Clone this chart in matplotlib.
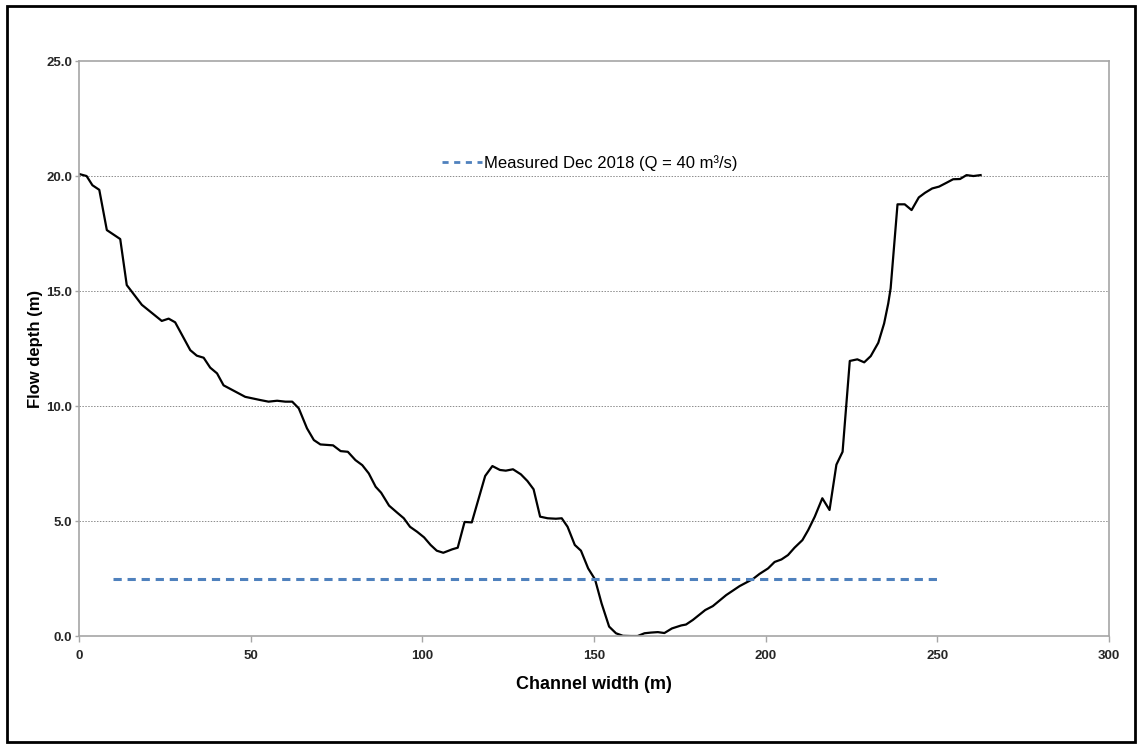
import matplotlib.pyplot as plt
from matplotlib.lines import Line2D
from matplotlib.patches import Rectangle

# cross-section profile
WIDTH = [0, 2.2, 3.9, 5.9, 8.1, 12.0, 13.9, 18.3, 24.1, 26.1, 28.0, 32.4, 34.3,
         36.3, 38.2, 40.2, 42.1, 48.4, 52.8, 55.2, 57.7, 60.1, 62.1, 64.0, 66.4,
         68.4, 70.3, 74.0, 76.2, 78.3, 80.5, 82.5, 84.4, 86.4, 88.0, 90.3, 92.7,
         94.6, 96.4, 98.5, 100.5, 102.4, 104.2, 106.1, 108.7, 110.3, 112.3, 114.4,
         116.0, 118.3, 120.4, 122.6, 124.3, 126.4, 128.7, 130.6, 132.4, 134.3,
         136.5, 138.9, 140.6, 142.3, 144.4, 146.2, 148.3, 150.3, 152.2, 154.4,
         156.4, 158.4, 160.8, 162.7, 164.7, 166.6, 168.6, 170.5, 172.7, 175.4,
         176.8, 178.8, 182.4, 184.6, 188.5, 192.4, 196.3, 198.2, 200.7, 202.6,
         204.6, 206.5, 208.4, 210.7, 212.4, 214.3, 216.5, 218.6, 220.6, 222.4,
         224.5, 226.7, 228.7, 230.6, 232.8, 234.5, 235.7, 236.4, 238.4, 240.5,
         242.5, 244.6, 246.4, 248.5, 250.5, 252.7, 254.6, 256.6, 258.5, 260.5,
         262.6]
DEPTH = [20.09, 20.0, 19.6, 19.4, 17.65, 17.26, 15.26, 14.4, 13.7, 13.8, 13.64,
         12.43, 12.19, 12.1, 11.67, 11.42, 10.9, 10.4, 10.26, 10.19, 10.23, 10.19,
         10.19, 9.9, 9.03, 8.52, 8.33, 8.29, 8.04, 8.01, 7.65, 7.43, 7.07, 6.49,
         6.23, 5.67, 5.36, 5.12, 4.75, 4.53, 4.29, 3.96, 3.71, 3.62, 3.77, 3.84,
         4.96, 4.94, 5.77, 6.96, 7.39, 7.22, 7.19, 7.25, 7.03, 6.74, 6.38, 5.19,
         5.12, 5.10, 5.12, 4.75, 3.96, 3.71, 2.94, 2.46, 1.42, 0.41, 0.12, 0.01,
         0.0, 0.0, 0.12, 0.15, 0.17, 0.13, 0.33, 0.46, 0.5, 0.7, 1.13, 1.3, 1.78,
         2.17, 2.48, 2.7, 2.94, 3.22, 3.33, 3.52, 3.84, 4.17, 4.61, 5.19, 5.99,
         5.48, 7.45, 8.01, 11.96, 12.03, 11.9, 12.17, 12.75, 13.59, 14.46, 15.12,
         18.77, 18.77, 18.52, 19.07, 19.27, 19.46, 19.54, 19.71, 19.86, 19.87,
         20.04, 20.0, 20.04]

# measured water level, Dec 2018
LEVEL_X = [10, 250]
LEVEL_Y = [2.5, 2.5]
LEVEL_LABEL = 'Measured Dec 2018 (Q = 40 m\u00b3/s)'

X_TICKS = [0, 50, 100, 150, 200, 250, 300]
Y_TICKS = [0, 5, 10, 15, 20, 25]

BLUE = '#4F81BD'


def main():
    plt.rcParams['font.family'] = ['Liberation Sans', 'DejaVu Sans']
    fig = plt.figure(figsize=(11.42, 7.48), dpi=100)
    ax = fig.add_axes([0.0692, 0.1497, 0.9019, 0.7687])

    ax.plot(WIDTH, DEPTH, color='black', lw=1.6)
    ax.plot(LEVEL_X, LEVEL_Y, color=BLUE, lw=2.2, dashes=(2.7, 1.9))

    ax.set_xlim(0, 300)
    ax.set_ylim(0, 25)
    ax.set_xticks(X_TICKS)
    ax.set_yticks(Y_TICKS)
    ax.set_yticklabels([f'{v:.1f}' for v in Y_TICKS])
    for lab in ax.get_xticklabels() + ax.get_yticklabels():
        lab.set_fontweight('bold')
        lab.set_fontsize(9.5)
        lab.set_color('#262626')
    ax.tick_params(axis='x', length=4, color='#A6A6A6', width=1, pad=6)
    ax.tick_params(axis='y', length=3, color='#A6A6A6', width=1, pad=2)

    for y in Y_TICKS[1:-1]:
        ax.axhline(y, color='#8C8C8C', lw=0.7, ls=(0, (1.5, 1.5)), zorder=0)
    for s in ax.spines.values():
        s.set_color('#A6A6A6')
        s.set_linewidth(1.2)

    ax.set_xlabel('Channel width (m)', fontsize=13, fontweight='bold', labelpad=10)
    ax.set_ylabel('Flow depth (m)', fontsize=12, fontweight='bold', labelpad=2)

    # legend swatch drawn with shorter dashes, like the original
    proxy = Line2D([], [], color=BLUE, lw=2, dashes=(2.2, 2.0))
    ax.legend(handles=[proxy], labels=[LEVEL_LABEL], loc='center',
              bbox_to_anchor=(0.496, 0.8226), frameon=False, fontsize=12,
              handlelength=2.4, handletextpad=0.1)

    fig.patches.append(Rectangle((0.006, 0.008), 0.988, 0.984, transform=fig.transFigure,
                                 fill=False, edgecolor='black', lw=2))
    plt.savefig('out.png', dpi=100)


if __name__ == "__main__":
    main()
